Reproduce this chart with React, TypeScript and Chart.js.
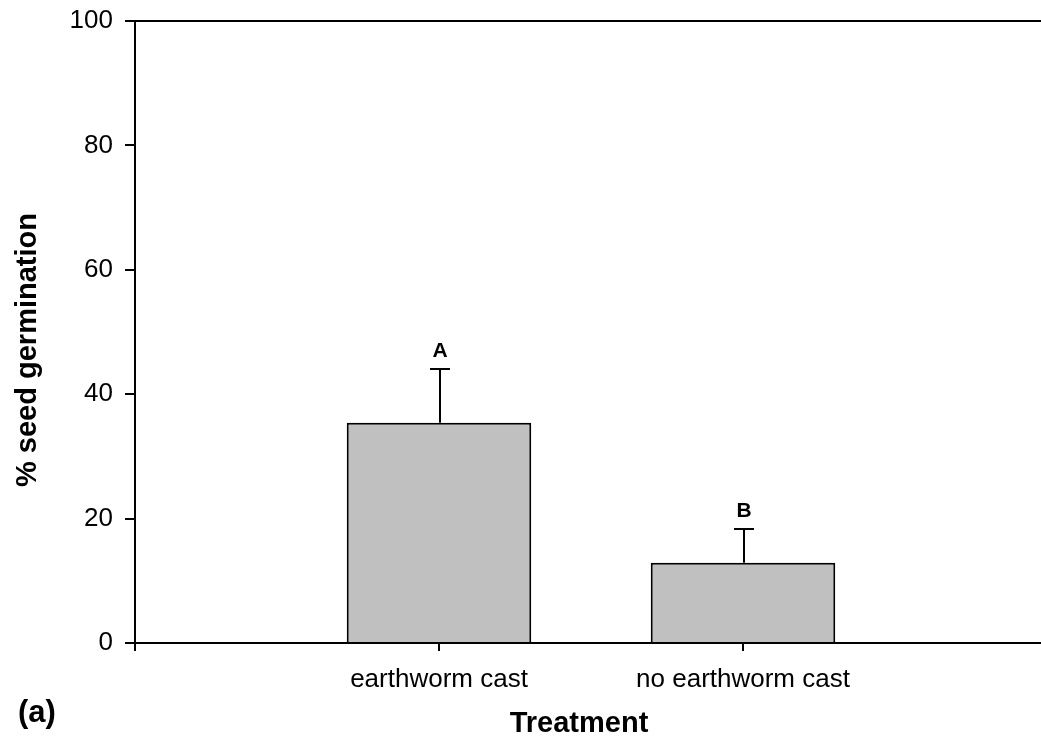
import React, { useEffect, useRef } from 'react';
import { Chart, registerables } from 'chart.js';

Chart.register(...registerables);

const categories = ['', 'earthworm cast', 'no earthworm cast', ''];
const meanGermination = [null, 35.4, 12.9, null];
const errorValues = [null, 8.6, 5.4, null];
const significanceLetters = ['', 'A', 'B', ''];
const yTickValues = [0, 20, 40, 60, 80, 100];
const xAxisTitle = 'Treatment';
const yAxisTitle = '% seed germination';
const panelLabel = '(a)';

const FONT = '"Liberation Sans", Arial, Helvetica, sans-serif';
const CANVAS_W = 1048;
const CANVAS_H = 760;

const annotatePlugin = {
  id: 'annotate',
  afterDatasetsDraw(chart: any) {
    const { ctx, scales } = chart;
    const x = scales.x;
    const y = scales.y;
    ctx.save();
    ctx.strokeStyle = '#000';
    ctx.fillStyle = '#000';
    ctx.lineWidth = 2;
    meanGermination.forEach((v, i) => {
      const e = errorValues[i];
      if (v == null || e == null) return;
      const px = Math.round(x.getPixelForValue(i)) + 1;
      const yb = y.getPixelForValue(v);
      const yt = Math.round(y.getPixelForValue(v + e));
      ctx.beginPath();
      ctx.moveTo(px, yb);
      ctx.lineTo(px, yt);
      ctx.moveTo(px - 10, yt);
      ctx.lineTo(px + 10, yt);
      ctx.stroke();
      ctx.font = `bold 21px ${FONT}`;
      ctx.textAlign = 'center';
      ctx.textBaseline = 'alphabetic';
      ctx.fillText(significanceLetters[i], px, yt - 12);
    });
    ctx.restore();
  },
  afterDraw(chart: any) {
    const { ctx } = chart;
    ctx.save();
    ctx.fillStyle = '#000';
    ctx.textBaseline = 'alphabetic';
    // x-axis title
    ctx.font = `bold 29px ${FONT}`;
    ctx.textAlign = 'center';
    ctx.fillText(xAxisTitle, 579, 732);
    // y-axis title
    ctx.translate(36, 350);
    ctx.rotate(-Math.PI / 2);
    ctx.fillText(yAxisTitle, 0, 0);
    ctx.setTransform(1, 0, 0, 1, 0, 0);
    // panel label
    ctx.font = `bold 31px ${FONT}`;
    ctx.textAlign = 'left';
    ctx.fillText(panelLabel, 18, 722);
    ctx.restore();
  },
};

export default function App() {
  const canvasRef = useRef<HTMLCanvasElement | null>(null);

  useEffect(() => {
    const canvas = canvasRef.current;
    if (!canvas) return;
    const chart = new Chart(canvas, {
      type: 'bar',
      data: {
        labels: categories,
        datasets: [
          {
            data: meanGermination as any,
            backgroundColor: '#c0c0c0',
            borderColor: '#000',
            borderWidth: 2,
            barPercentage: 1,
            categoryPercentage: 0.607,
          },
        ],
      },
      options: {
        animation: false,
        responsive: false,
        devicePixelRatio: 1,
        layout: { padding: { top: 21, left: 0, right: 1, bottom: 0 } },
        plugins: {
          legend: { display: false },
          tooltip: { enabled: false },
          title: { display: false },
        },
        scales: {
          x: {
            type: 'category',
            offset: false,
            grid: {
              offset: false,
              drawOnChartArea: false,
              drawTicks: true,
              tickLength: 8,
              tickWidth: 2,
              tickColor: '#000',
              color: '#000',
              lineWidth: 2,
            },
            border: { display: true, color: '#000', width: 2 },
            ticks: {
              font: { family: FONT, size: 26 },
              color: '#000',
              padding: 13,
              maxRotation: 0,
              autoSkip: false,
            },
            afterFit: (scale: any) => {
              scale.height = CANVAS_H - 643;
              scale.paddingLeft = 0;
              scale.paddingRight = 0;
            },
          },
          y: {
            type: 'linear',
            min: 0,
            max: 100,
            afterBuildTicks: (scale: any) => {
              scale.ticks = yTickValues.map((v) => ({ value: v }));
            },
            grid: {
              drawOnChartArea: true,
              drawTicks: true,
              tickLength: 10,
              tickWidth: 2,
              tickColor: '#000',
              lineWidth: 2,
              color: (c: any) => (c.tick && c.tick.value === 100 ? '#000' : 'rgba(0,0,0,0)'),
            },
            border: { display: true, color: '#000', width: 2 },
            ticks: {
              font: { family: FONT, size: 26 },
              color: '#000',
              padding: 12,
            },
            afterFit: (scale: any) => {
              scale.width = 135;
              scale.paddingTop = 0;
              scale.paddingBottom = 0;
            },
          },
        },
      },
      plugins: [annotatePlugin],
    });
    return () => chart.destroy();
  }, []);

  return (
    <div
      style={{
        position: 'absolute',
        left: 0,
        top: 0,
        width: 1041,
        height: 740,
        overflow: 'hidden',
        background: '#fff',
      }}
    >
      <canvas
        ref={canvasRef}
        width={CANVAS_W}
        height={CANVAS_H}
        style={{ display: 'block', width: CANVAS_W, height: CANVAS_H }}
      />
    </div>
  );
}
